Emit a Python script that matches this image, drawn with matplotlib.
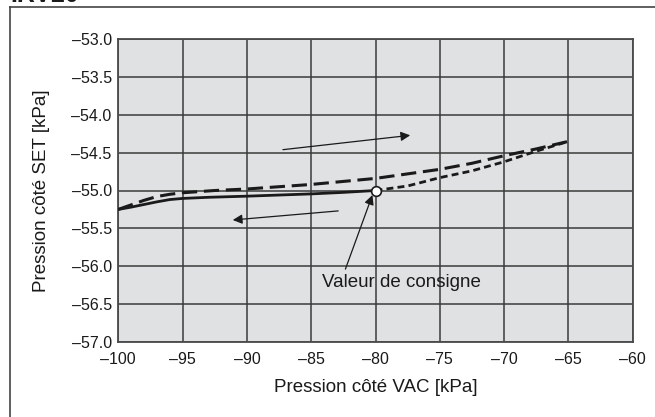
import matplotlib
matplotlib.use("Agg")
import matplotlib.pyplot as plt
from matplotlib.lines import Line2D

plt.rcParams['font.family'] = ['Liberation Sans', 'DejaVu Sans']

# Data
solid_x = [-100, -99, -98, -97, -96, -95, -93, -90, -87.5, -85, -82.5, -80]
solid_y = [-55.25, -55.22, -55.185, -55.15, -55.12, -55.105, -55.09, -55.075, -55.06, -55.045, -55.025, -55.0]

long_x = [-100, -99, -98, -97, -96, -95, -92.5, -90, -87.5, -85, -82.5, -80, -77.5, -75, -72.5, -70, -67.5, -65]
long_y = [-55.25, -55.19, -55.13, -55.08, -55.05, -55.03, -55.0, -54.98, -54.95, -54.92, -54.88, -54.84, -54.78, -54.72, -54.64, -54.54, -54.45, -54.35]

short_x = [-80, -77.5, -75, -72.5, -70, -67.5, -65]
short_y = [-55.0, -54.94, -54.83, -54.74, -54.62, -54.48, -54.35]

setpoint = (-80, -55.0)
xticks = [-100, -95, -90, -85, -80, -75, -70, -65, -60]
yticks = [-53.0, -53.5, -54.0, -54.5, -55.0, -55.5, -56.0, -56.5, -57.0]

W, H = 655, 417
fig = plt.figure(figsize=(W / 100, H / 100), dpi=100)
ax = fig.add_axes([118.3 / W, 1 - 341.7 / H, (632.7 - 118.3) / W, (341.7 - 39.3) / H])
ax.set_facecolor('#e0e1e3')

ax.set_xlim(-100, -60)
ax.set_ylim(-57.0, -53.0)
ax.set_xticks(xticks)
ax.set_yticks(yticks)
ax.set_xticklabels([f"\u2013{abs(v):d}" for v in xticks], fontsize=11.5, color='#1a1a1a')
ax.set_yticklabels([f"\u2013{abs(v):.1f}" for v in yticks], fontsize=11.5, color='#1a1a1a')
ax.tick_params(axis='x', length=0, pad=7.5)
ax.tick_params(axis='y', length=0, pad=4.75)
ax.grid(True, color='#3a3a3a', linewidth=1.1)
ax.set_axisbelow(True)
for s in ax.spines.values():
    s.set_color('#4a4a4a')
    s.set_linewidth(1.3)

ax.plot(solid_x, solid_y, color='#1a1a1a', linewidth=2.0, solid_capstyle='butt', zorder=3)
ax.plot(long_x, long_y, color='#1a1a1a', linewidth=2.2, dashes=(5, 2.2), zorder=3)
ax.plot(short_x, short_y, color='#1a1a1a', linewidth=2.0, dashes=(2.5, 1.5), zorder=3)
ax.plot([setpoint[0]], [setpoint[1]], marker='o', markersize=7, markerfacecolor='white',
        markeredgecolor='#1a1a1a', markeredgewidth=1.2, zorder=5)

arrowprops = dict(arrowstyle='-|>', color='#1a1a1a', lw=0.9, mutation_scale=14, shrinkA=0, shrinkB=0)
ax.annotate('', xy=(-77.3, -54.27), xytext=(-87.2, -54.46), arrowprops=arrowprops, zorder=4)
ax.annotate('', xy=(-91.1, -55.39), xytext=(-82.9, -55.27), arrowprops=arrowprops, zorder=4)
ax.annotate('', xy=(-80.24, -55.06), xytext=(-82.34, -56.04), arrowprops=arrowprops, zorder=4)
ax.text(-77.96, -56.22, 'Valeur de consigne', fontsize=13.5, ha='center', va='center', color='#1a1a1a')

fig.text(375.5 / W, 1 - 387 / H, 'Pression côté VAC [kPa]', fontsize=13.5,
         ha='center', va='center', color='#1a1a1a')
fig.text(41.7 / W, 1 - 190.5 / H, 'Pression côté SET [kPa]', fontsize=13.5, rotation=90,
         ha='center', va='center', color='#1a1a1a')

# outer frame (left and top)
fig.add_artist(Line2D([10 / W, 10 / W], [0, 1 - 7.3 / H], transform=fig.transFigure, color='#444444', lw=1.2))
fig.add_artist(Line2D([10 / W, 1], [1 - 7.3 / H, 1 - 7.3 / H], transform=fig.transFigure, color='#444444', lw=1.2))
fig.text(10 / W, 1 - 2 / H, 'IRV20', fontsize=18, fontweight='bold', ha='left', va='baseline', color='#1a1a1a')

fig.savefig('out.png', dpi=100)
